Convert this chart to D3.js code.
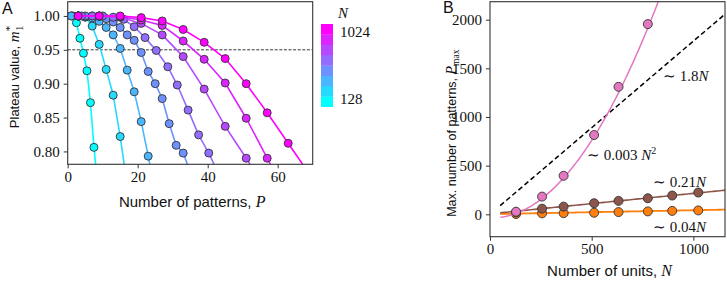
<!DOCTYPE html>
<html>
<head>
<meta charset="utf-8">
<script src="https://cdn.jsdelivr.net/npm/d3@7"></script>
<style>
  body { margin: 0; background: #fff; }
  svg { display: block; }
  .tick text { font-family: "Liberation Serif", serif; font-size: 15px; fill: #111; }
  .sans { font-family: "Liberation Sans", Arial, sans-serif; font-size: 15px; fill: #111; }
  .serif { font-family: "Liberation Serif", serif; font-size: 15px; fill: #111; }
</style>
</head>
<body>
<script>
// ---- panel A data: plateau value vs number of patterns, one curve per N ----
const unitsA = [128, 256, 384, 512, 640, 768, 896, 1024];
const patternCounts = [
  [1.5, 2.5, 3.5, 4.5, 5.5, 6.5, 7.5, 8.5],
  [1, 3, 5, 7, 9, 11, 13, 15, 17],
  [1, 3, 5, 7, 9, 11, 13, 15, 17, 19, 21, 23, 25],
  [3, 5, 7, 9, 11, 13, 15, 17, 19, 21, 23, 25, 27, 29, 31, 33, 35],
  [4, 7, 10, 13, 16, 19, 22.1, 25.3, 28.6, 31.3, 34.4, 37.4, 40.3, 43.3],
  [3, 9, 15, 21, 27, 33, 39, 45, 51, 57],
  [3, 9, 15, 21, 27, 33, 39, 45, 51, 57, 63],
  [3, 9, 15, 21, 27, 33, 39, 45, 51, 57, 63, 69]
];
const plateauValues = [
  [1.000, 0.990, 0.967, 0.945, 0.919, 0.872, 0.806, 0.754],
  [1.000, 1.000, 0.998, 0.985, 0.958, 0.921, 0.883, 0.822, 0.750],
  [1.000, 1.000, 0.999, 0.997, 0.992, 0.983, 0.972, 0.952, 0.920, 0.888, 0.844, 0.793, 0.740],
  [1.000, 1.000, 1.000, 0.999, 0.996, 0.991, 0.983, 0.972, 0.964, 0.946, 0.918, 0.900, 0.878, 0.841, 0.809, 0.7975, 0.770],
  [1.000, 1.000, 1.000, 0.998, 0.995, 0.984, 0.968, 0.949, 0.925, 0.898, 0.861, 0.8245, 0.7976, 0.765],
  [1.000, 1.000, 0.998, 0.989, 0.972, 0.940, 0.892, 0.837, 0.790, 0.740],
  [1.000, 1.000, 0.999, 0.994, 0.986, 0.963, 0.936, 0.901, 0.849, 0.790, 0.730],
  [1.000, 1.000, 1.000, 0.9975, 0.9926, 0.980, 0.961, 0.937, 0.900, 0.857, 0.812, 0.767]
];
const thresholdA = 0.95;
const xTicksA = [0, 20, 40, 60];
const yTicksA = [0.80, 0.85, 0.90, 0.95, 1.00];

// ---- panel B data: capacity vs number of units ----
const unitsB = [128, 256, 362, 512, 632, 776, 896, 1024];
const pmaxQuad = [27, 182, 396, 815, 1310, 1955];          // pink, first 6 N
const pmaxBrown = [20, 58, 79, 114, 138, 165, 193, 224];
const pmaxOrange = [3, 10, 12, 16, 23, 30, 35, 40];
const quadFit = [0.003342, -0.0796, -35.4];   // a N^2 + b N + c
const brownFit = [0.21, 5];                  // slope, intercept
const orangeFit = [0.04, 2];
const dashedFit = [1.78, 0];
const fitRange = [50, 1200];
const xTicksB = [0, 500, 1000];
const yTicksB = [0, 500, 1000, 1500, 2000];

const W = 727, H = 282;
const svg = d3.select("body").append("svg").attr("width", W).attr("height", H);
const frameColor = "#333";

function frame(g, w, h) {
  g.append("rect").attr("width", w).attr("height", h)
    .attr("fill", "none").attr("stroke", frameColor).attr("stroke-width", 1.1);
}
function styleAxis(sel) {
  sel.select(".domain").remove();
  sel.selectAll(".tick line").attr("stroke", frameColor).attr("stroke-width", 1);
}

// ================= Panel A =================
const A = { left: 67.7, top: 1.7, width: 245, height: 162.6 };
const gA = svg.append("g").attr("transform", `translate(${A.left},${A.top})`);
const xA = d3.scaleLinear().domain([0, 70]).range([0, A.width]);
const yA = d3.scaleLinear().domain([0.781, 1.021]).range([A.height, 0]);
const cool = t => d3.rgb(255 * t, 255 * (1 - t), 255).formatHex();
const colorA = n => cool((n - 128) / (1024 - 128));

svg.append("defs").append("clipPath").attr("id", "clipA")
  .append("rect").attr("width", A.width).attr("height", A.height);

const plotA = gA.append("g").attr("clip-path", "url(#clipA)");
plotA.append("line")
  .attr("x1", 0).attr("x2", A.width)
  .attr("y1", yA(thresholdA)).attr("y2", yA(thresholdA))
  .attr("stroke", "#000").attr("stroke-width", 0.8).attr("stroke-dasharray", "3,1.6");

const lineA = d3.line().x(d => xA(d[0])).y(d => yA(d[1]));
unitsA.forEach((n, i) => {
  const pts = patternCounts[i].map((p, j) => [p, plateauValues[i][j]]);
  const c = colorA(n);
  plotA.append("path").datum(pts).attr("d", lineA)
    .attr("fill", "none").attr("stroke", c).attr("stroke-width", 1.6);
  plotA.selectAll(null).data(pts).join("circle")
    .attr("cx", d => xA(d[0])).attr("cy", d => yA(d[1])).attr("r", 4)
    .attr("fill", c).attr("stroke", "#333").attr("stroke-width", 0.9);
});

gA.append("g").attr("transform", `translate(0,${A.height})`)
  .call(d3.axisBottom(xA).tickValues(xTicksA).tickSize(4).tickPadding(3).tickFormat(d3.format("d")))
  .call(styleAxis);
gA.append("g")
  .call(d3.axisLeft(yA).tickValues(yTicksA).tickSize(4).tickPadding(4).tickFormat(d3.format(".2f")))
  .call(styleAxis);
frame(gA, A.width, A.height);

svg.append("text").attr("class", "sans").attr("x", A.left + A.width / 2 + 2).attr("y", 207)
  .attr("text-anchor", "middle")
  .call(t => {
    t.append("tspan").text("Number of patterns, ");
    t.append("tspan").attr("class", "serif").style("font-style", "italic").style("font-size", "16px").text("P");
  });

const ylabA = svg.append("text").attr("class", "sans").style("font-size", "13px")
  .attr("transform", `translate(19,${A.top + A.height / 2 - 6}) rotate(-90)`)
  .attr("text-anchor", "middle");
ylabA.append("tspan").text("Plateau value, ");
ylabA.append("tspan").style("font-family", "Liberation Serif").style("font-style", "italic").style("font-size", "15px").text("m");
ylabA.append("tspan").style("font-family", "Liberation Serif").style("font-size", "11px").attr("dy", -6).text("*");
ylabA.append("tspan").style("font-family", "Liberation Serif").style("font-size", "10px").attr("dx", -5).attr("dy", 10).text("1");

svg.append("text").attr("class", "sans").attr("x", 2).attr("y", 14)
  .style("font-size", "16px").text("A");

// discrete colorbar
const cb = { x: 321, y: 24, w: 12, h: 82.7 };
const blockH = cb.h / unitsA.length;
svg.append("g").selectAll("rect").data(unitsA).join("rect")
  .attr("x", cb.x).attr("width", cb.w)
  .attr("y", (d, i) => cb.y + cb.h - (i + 1) * blockH)
  .attr("height", blockH + 0.3)
  .attr("fill", d => colorA(d));
svg.append("text").attr("class", "serif").attr("x", 340).attr("y", 37).text(unitsA[unitsA.length - 1]);
svg.append("text").attr("class", "serif").attr("x", 340).attr("y", 104).text(unitsA[0]);
svg.append("text").attr("class", "serif").style("font-style", "italic").attr("x", 338).attr("y", 18).text("N");

// ================= Panel B =================
const B = { left: 490, top: 1.7, width: 235, height: 235 };
const gB = svg.append("g").attr("transform", `translate(${B.left},${B.top})`);
const xB = d3.scaleLinear().domain([0, 1155.5]).range([0, B.width]);
const yB = d3.scaleLinear().domain([-230, 2185]).range([B.height, 0]);

svg.select("defs").append("clipPath").attr("id", "clipB")
  .append("rect").attr("width", B.width).attr("height", B.height);
const plotB = gB.append("g").attr("clip-path", "url(#clipB)");

const fitLine = f => d3.line().x(n => xB(n)).y(n => yB(f(n)));
const fitNs = d3.range(fitRange[0], fitRange[1] + 1, 10);

plotB.append("path").datum(fitNs)
  .attr("d", fitLine(n => dashedFit[0] * n + dashedFit[1]))
  .attr("fill", "none").attr("stroke", "#000").attr("stroke-width", 1.5).attr("stroke-dasharray", "5,3");

function series(values, fit, color, lw) {
  plotB.append("path").datum(fitNs).attr("d", fitLine(fit))
    .attr("fill", "none").attr("stroke", color).attr("stroke-width", lw);
  plotB.selectAll(null).data(values).join("circle")
    .attr("cx", (d, i) => xB(unitsB[i])).attr("cy", d => yB(d)).attr("r", 4.5)
    .attr("fill", color).attr("stroke", "#333").attr("stroke-width", 0.9);
}
series(pmaxOrange, n => orangeFit[0] * n + orangeFit[1], "#ff7f0e", 1.8);
series(pmaxBrown, n => brownFit[0] * n + brownFit[1], "#8c564b", 1.6);
series(pmaxQuad, n => quadFit[0] * n * n + quadFit[1] * n + quadFit[2], "#e377c2", 1.5);

gB.append("g").attr("transform", `translate(0,${B.height})`)
  .call(d3.axisBottom(xB).tickValues(xTicksB).tickSize(4).tickPadding(3).tickFormat(d3.format("d")))
  .call(styleAxis);
gB.append("g")
  .call(d3.axisLeft(yB).tickValues(yTicksB).tickSize(4).tickPadding(4).tickFormat(d3.format("d")))
  .call(styleAxis);
frame(gB, B.width, B.height);

function annot(x, y, coef, sup) {
  const t = svg.append("text").attr("class", "serif").attr("x", x).attr("y", y);
  t.append("tspan").text("\u223C " + coef);
  t.append("tspan").style("font-style", "italic").text("N");
  if (sup) t.append("tspan").style("font-size", "10px").attr("dy", -6).text(sup);
}
annot(663, 81, "1.8", null);
annot(587, 160, "0.003 ", "2");
annot(653, 187, "0.21", null);
annot(653, 232, "0.04", null);

svg.append("text").attr("class", "sans").attr("x", B.left + B.width / 2 + 2).attr("y", 276)
  .attr("text-anchor", "middle")
  .call(t => {
    t.append("tspan").text("Number of units, ");
    t.append("tspan").attr("class", "serif").style("font-style", "italic").style("font-size", "16px").text("N");
  });

const ylabB = svg.append("text").attr("class", "sans").style("font-size", "12.5px")
  .attr("transform", `translate(456,${B.top + B.height / 2 + 14}) rotate(-90)`)
  .attr("text-anchor", "middle");
ylabB.append("tspan").text("Max. number of patterns, ");
ylabB.append("tspan").style("font-family", "Liberation Serif").style("font-style", "italic").style("font-size", "14px").text("P");
ylabB.append("tspan").style("font-family", "Liberation Serif").style("font-size", "9.5px").attr("dy", 3).text("max");

svg.append("text").attr("class", "sans").attr("x", 443).attr("y", 13)
  .style("font-size", "16px").text("B");
</script>
</body>
</html>
